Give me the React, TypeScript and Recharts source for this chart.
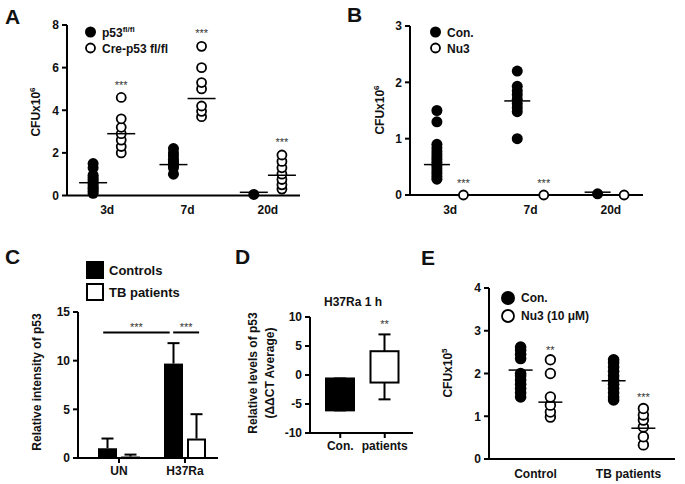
import React from "react";
import { ScatterChart, Scatter, XAxis, YAxis, BarChart, Bar } from "recharts";

const FONT = "'Liberation Sans', Arial, Helvetica, sans-serif";
const INK = "#000";

// ---- A: CFU, p53 fl/fl vs Cre-p53 fl/fl
const daysA = ["3d", "7d", "20d"];
const aFlox = [
  [0.1, 0.2, 0.3, 0.35, 0.45, 0.55, 0.65, 0.75, 0.85, 0.95, 1.3, 1.5],
  [1.0, 1.3, 1.4, 1.5, 1.6, 1.7, 1.85, 2.0, 2.2],
  [0.05],
];
const aCre = [
  [2.0, 2.3, 2.6, 2.9, 3.2, 3.6, 4.6],
  [3.7, 3.95, 4.2, 5.0, 5.3, 6.0, 7.0],
  [0.3, 0.5, 0.75, 1.0, 1.3, 1.6, 1.9],
];
const aFloxMean = [0.6, 1.45, 0.15];
const aCreMean = [2.9, 4.55, 0.95];
const aSig = ["***", "***", "***"];
const aSigY = [5.3, 7.7, 2.6];

// ---- B: CFU, Con. vs Nu3
const daysB = ["3d", "7d", "20d"];
const bCon = [
  [0.28, 0.33, 0.38, 0.43, 0.48, 0.53, 0.58, 0.63, 0.68, 0.73, 0.78, 0.84, 0.9, 1.3, 1.5],
  [1.0, 1.48, 1.55, 1.62, 1.7, 1.78, 1.85, 1.93, 2.2],
  [0.02],
];
const bNu3 = [[0], [0], [0]];
const bConMean = [0.54, 1.67, 0.05];
const bSig = ["***", "***", ""];
const bSigY = [0.25, 0.25, 0];

// ---- C: relative intensity of p53
const cGroups = ["UN", "H37Ra"];
const cControls = [1.0, 9.7];
const cControlsErr = [1.0, 2.1];
const cTB = [0.15, 2.0];
const cTBErr = [0.2, 2.5];
// significance brackets: [from, to] on a 0..2 overlay scale
const cBracketX = [
  [0.36, 1.31],
  [1.36, 1.73],
];
const cBracketY = 12.9;
const cStarY = 13.7;
const cBracketSig = ["***", "***"];

// ---- D: ΔΔCT, H37Ra 1 h
const dCats = ["Con.", "patients"];
const dLow = [-6.1, -1.3];
const dHigh = [-0.6, 4.1];
const dWhiskLow = [-6.1, -4.2];
const dWhiskHigh = [-0.6, 7.0];
const dSig = ["", "**"];
const dSigY = [0, 9.2];

// ---- E: CFU x10^5, Con. vs Nu3 (10 μM)
const groupsE = ["Control", "TB patients"];
const eCon = [
  [1.45, 1.55, 1.65, 1.75, 1.85, 1.95, 2.0, 2.35, 2.45, 2.55, 2.62],
  [1.38, 1.45, 1.55, 1.65, 1.75, 1.85, 1.95, 2.05, 2.15, 2.25, 2.32],
];
const eNu3 = [
  [0.98, 1.1, 1.26, 1.45, 2.0, 2.32],
  [0.33, 0.52, 0.75, 0.91, 1.03, 1.18],
];
const eConMean = [2.08, 1.83];
const eNu3Mean = [1.33, 0.72];
const eSig = ["**", "***"];
const eSigY = [2.6, 1.5];

const axisLine = { stroke: INK, strokeWidth: 2 };
const tickStyle = { fill: "#111", fontSize: 12, fontWeight: 700, fontFamily: FONT };

const pts = (groups: number[][], side: number, off: number) =>
  groups.flatMap((vals, i) => vals.map((v) => ({ x: i + 0.5 + side * off, y: v })));
const marks = (vals: number[], side: number, off: number, labels?: string[]) =>
  vals.map((v, i) => ({ x: i + 0.5 + side * off, y: v, label: labels ? labels[i] : "" }));

const filledDot = (r: number) => (p: any) => <circle cx={p.cx} cy={p.cy} r={r} fill={INK} />;
const openDot = (r: number) => (p: any) => (
  <circle cx={p.cx} cy={p.cy} r={r} fill="#fff" stroke={INK} strokeWidth={1.8} />
);
const meanLine = (w: number) => (p: any) => (
  <line x1={p.cx - w / 2} x2={p.cx + w / 2} y1={p.cy} y2={p.cy} stroke={INK} strokeWidth={1.5} />
);
const starText = (p: any) =>
  p.payload.label ? (
    <text x={p.cx} y={p.cy + 6} textAnchor="middle" fontSize={11} fill="#333" fontFamily={FONT}>
      {p.payload.label}
    </text>
  ) : (
    <g />
  );
const noDot = () => <g />;

type DotPanelProps = {
  width: number;
  height: number;
  margin: { top: number; right: number; bottom: number; left: number };
  yDomain: [number, number];
  yTicks: number[];
  cats: string[];
  xMax: number;
  off: number;
  filled: number[][];
  open: number[][];
  filledMean: number[];
  openMean?: number[];
  sig: string[];
  sigY: number[];
  r: number;
  meanW: number;
  yWidth: number;
  xHeight: number;
};

function DotPanel(p: DotPanelProps) {
  return (
    <ScatterChart width={p.width} height={p.height} margin={p.margin}>
      <XAxis
        type="number"
        dataKey="x"
        domain={[0, p.xMax]}
        ticks={p.cats.map((_, i) => i + 0.5)}
        tickFormatter={(v: number) => p.cats[Math.round(v - 0.5)]}
        tickLine={false}
        tickMargin={4}
        axisLine={axisLine}
        tick={tickStyle}
        height={p.xHeight}
      />
      <YAxis
        type="number"
        dataKey="y"
        domain={p.yDomain}
        ticks={p.yTicks}
        width={p.yWidth}
        tickSize={5}
        tickMargin={3}
        tickLine={axisLine}
        axisLine={axisLine}
        tick={tickStyle}
      />
      <Scatter data={pts(p.filled, -1, p.off)} shape={filledDot(p.r)} isAnimationActive={false} />
      <Scatter data={pts(p.open, 1, p.off)} shape={openDot(p.r - 1)} isAnimationActive={false} />
      <Scatter data={marks(p.filledMean, -1, p.off)} shape={meanLine(p.meanW)} isAnimationActive={false} />
      {p.openMean && (
        <Scatter data={marks(p.openMean, 1, p.off)} shape={meanLine(p.meanW)} isAnimationActive={false} />
      )}
      <Scatter data={marks(p.sigY, 1, p.off, p.sig)} shape={starText} isAnimationActive={false} />
    </ScatterChart>
  );
}

const Letter = ({ x, y, children }: any) => (
  <div
    style={{
      position: "absolute",
      left: x,
      top: y,
      fontSize: 21,
      fontWeight: 700,
      lineHeight: 1,
      fontFamily: FONT,
      color: "#111",
    }}
  >
    {children}
  </div>
);

const VText = ({ x, y, children, lh = 1.15 }: any) => (
  <div
    style={{
      position: "absolute",
      left: x,
      top: y,
      transform: "translate(-50%, -50%) rotate(-90deg)",
      whiteSpace: "nowrap",
      fontSize: 12,
      fontWeight: 700,
      fontFamily: FONT,
      color: "#111",
      lineHeight: lh,
      textAlign: "center",
    }}
  >
    {children}
  </div>
);

const LegendRow = ({ x, y, marker, children, size = 12 }: any) => (
  <div
    style={{
      position: "absolute",
      left: x,
      top: y,
      display: "flex",
      alignItems: "center",
      gap: 5,
      fontSize: size,
      fontWeight: 700,
      fontFamily: FONT,
      color: "#111",
      whiteSpace: "nowrap",
      transform: "translateY(-50%)",
      lineHeight: 1,
    }}
  >
    {marker}
    <span>{children}</span>
  </div>
);

const dotIcon = (r: number, filled: boolean) => (
  <svg width={2 * r + 2} height={2 * r + 2}>
    <circle
      cx={r + 1}
      cy={r + 1}
      r={filled ? r : r - 1}
      fill={filled ? INK : "#fff"}
      stroke={INK}
      strokeWidth={filled ? 0 : 1.8}
    />
  </svg>
);

const squareIcon = (filled: boolean) => (
  <svg width={18} height={18}>
    <rect x={1} y={1} width={16} height={16} fill={filled ? INK : "#fff"} stroke={INK} strokeWidth={2} />
  </svg>
);

// bar + upward-only error bar (GraphPad style)
const barShape = (filled: boolean, valKey: string, errKey: string) => (p: any) => {
  const h = Math.abs(p.height);
  const top = Math.min(p.y, p.y + p.height);
  const ppu = h / p.payload[valKey];
  const errTop = top - p.payload[errKey] * ppu;
  const cx = p.x + p.width / 2;
  return (
    <g>
      {filled ? (
        <rect x={p.x} y={top} width={p.width} height={h} fill={INK} />
      ) : (
        <rect
          x={p.x + 1}
          y={top + 1}
          width={p.width - 2}
          height={Math.max(h - 1, 0.5)}
          fill="#fff"
          stroke={INK}
          strokeWidth={2}
        />
      )}
      <line x1={cx} x2={cx} y1={top} y2={errTop} stroke={INK} strokeWidth={2} />
      <line x1={cx - 6} x2={cx + 6} y1={errTop} y2={errTop} stroke={INK} strokeWidth={2} />
    </g>
  );
};

const BoxShape = (props: any) => {
  const { x, y, width, height, payload, index } = props;
  const [lo, hi] = payload.box;
  const h = Math.abs(height);
  const top = Math.min(y, y + height);
  const ppu = h / (hi - lo);
  const cx = x + width / 2;
  const wTop = top - (payload.wHi - hi) * ppu;
  const wBot = top + h + (lo - payload.wLo) * ppu;
  const filled = index === 0;
  return (
    <g>
      <line x1={cx} x2={cx} y1={wTop} y2={top} stroke={INK} strokeWidth={2} />
      <line x1={cx} x2={cx} y1={top + h} y2={wBot} stroke={INK} strokeWidth={2} />
      <line x1={cx - 6} x2={cx + 6} y1={wTop} y2={wTop} stroke={INK} strokeWidth={2} />
      <line x1={cx - 6} x2={cx + 6} y1={wBot} y2={wBot} stroke={INK} strokeWidth={2} />
      <rect
        x={x + 1}
        y={top}
        width={width - 2}
        height={h}
        fill={filled ? INK : "#fff"}
        stroke={INK}
        strokeWidth={2}
      />
      {payload.sig && (
        <text
          x={cx}
          y={top - (payload.sigY - hi) * ppu + 6}
          textAnchor="middle"
          fontSize={11}
          fill="#333"
          fontFamily={FONT}
        >
          {payload.sig}
        </text>
      )}
    </g>
  );
};

export default function App() {
  const cData = cGroups.map((g, i) => ({
    g,
    ctrl: cControls[i],
    ctrlErr: cControlsErr[i],
    tb: cTB[i],
    tbErr: cTBErr[i],
  }));
  const cStars = cBracketX.map(([a, b], i) => ({ x: (a + b) / 2, y: cStarY, label: cBracketSig[i] }));
  const dData = dCats.map((c, i) => ({
    c,
    box: [dLow[i], dHigh[i]],
    wLo: dWhiskLow[i],
    wHi: dWhiskHigh[i],
    sig: dSig[i],
    sigY: dSigY[i],
  }));

  return (
    <div
      style={{
        position: "absolute",
        left: 0,
        top: 0,
        width: 685,
        height: 484,
        background: "#fff",
        overflow: "hidden",
        fontFamily: FONT,
      }}
    >
      {/* A */}
      <div style={{ position: "absolute", left: 0, top: 0 }}>
        <DotPanel
          width={320}
          height={240}
          margin={{ top: 25, right: 20, bottom: 14.5, left: 27 }}
          yDomain={[0, 8]}
          yTicks={[0, 2, 4, 6, 8]}
          cats={daysA}
          xMax={2.9}
          off={0.175}
          filled={aFlox}
          open={aCre}
          filledMean={aFloxMean}
          openMean={aCreMean}
          sig={aSig}
          sigY={aSigY}
          r={5.5}
          meanW={28}
          yWidth={40}
          xHeight={30}
        />
      </div>
      <Letter x={5} y={6}>A</Letter>
      <VText x={36} y={112}>
        CFUx10<sup style={{ fontSize: 8 }}>6</sup>
      </VText>
      <LegendRow x={84} y={32} marker={dotIcon(5.5, true)}>
        p53<sup style={{ fontSize: 8 }}>fl/fl</sup>
      </LegendRow>
      <LegendRow x={84} y={48} marker={dotIcon(5.5, false)}>
        Cre-p53 fl/fl
      </LegendRow>

      {/* B */}
      <div style={{ position: "absolute", left: 340, top: 0 }}>
        <DotPanel
          width={320}
          height={240}
          margin={{ top: 26, right: 17, bottom: 15, left: 30 }}
          yDomain={[0, 3]}
          yTicks={[0, 1, 2, 3]}
          cats={daysB}
          xMax={2.9}
          off={0.165}
          filled={bCon}
          open={bNu3}
          filledMean={bConMean}
          sig={bSig}
          sigY={bSigY}
          r={5.5}
          meanW={26}
          yWidth={40}
          xHeight={30}
        />
      </div>
      <Letter x={347} y={4}>B</Letter>
      <VText x={380} y={110}>
        CFUx10<sup style={{ fontSize: 8 }}>6</sup>
      </VText>
      <LegendRow x={429} y={32} marker={dotIcon(5.5, true)}>
        Con.
      </LegendRow>
      <LegendRow x={429} y={48} marker={dotIcon(5.5, false)}>
        Nu3
      </LegendRow>

      {/* C */}
      <div style={{ position: "absolute", left: 0, top: 240 }}>
        <BarChart
          width={240}
          height={244}
          data={cData}
          margin={{ top: 72, right: 22, bottom: 0, left: 38 }}
          barSize={19}
          barGap={4}
        >
          <XAxis
            dataKey="g"
            height={26}
            padding={{ left: 8, right: 0 }}
            tickSize={5}
            tickMargin={3}
            tickLine={axisLine}
            axisLine={axisLine}
            tick={tickStyle}
          />
          <YAxis
            domain={[0, 15]}
            ticks={[0, 5, 10, 15]}
            width={40}
            tickSize={5}
            tickMargin={3}
            tickLine={axisLine}
            axisLine={axisLine}
            tick={tickStyle}
          />
          <Bar dataKey="ctrl" shape={barShape(true, "ctrl", "ctrlErr")} isAnimationActive={false} />
          <Bar dataKey="tb" shape={barShape(false, "tb", "tbErr")} isAnimationActive={false} />
        </BarChart>
      </div>
      {/* C significance brackets, drawn on an overlay with the same plot area */}
      <div style={{ position: "absolute", left: 0, top: 240 }}>
        <ScatterChart width={240} height={244} margin={{ top: 72, right: 22, bottom: 26, left: 78 }}>
          <XAxis type="number" dataKey="x" domain={[0, 2]} hide />
          <YAxis type="number" dataKey="y" domain={[0, 15]} hide />
          {cBracketX.map(([a, b], i) => (
            <Scatter
              key={i}
              data={[
                { x: a, y: cBracketY },
                { x: b, y: cBracketY },
              ]}
              line={{ stroke: INK, strokeWidth: 2 }}
              shape={noDot}
              isAnimationActive={false}
            />
          ))}
          <Scatter data={cStars} shape={starText} isAnimationActive={false} />
        </ScatterChart>
      </div>
      <Letter x={5} y={246}>C</Letter>
      <VText x={38} y={382}>Relative intensity of p53</VText>
      <LegendRow x={86} y={270} marker={squareIcon(true)} size={13}>
        Controls
      </LegendRow>
      <LegendRow x={86} y={292} marker={squareIcon(false)} size={13}>
        TB patients
      </LegendRow>

      {/* D */}
      <div style={{ position: "absolute", left: 240, top: 240 }}>
        <BarChart
          width={180}
          height={244}
          data={dData}
          margin={{ top: 77, right: 7, bottom: 21, left: 34 }}
          barSize={30}
        >
          <XAxis
            dataKey="c"
            height={30}
            padding={{ left: 8, right: 6 }}
            tickSize={5}
            tickMargin={3}
            tickLine={axisLine}
            axisLine={axisLine}
            tick={tickStyle}
          />
          <YAxis
            domain={[-10, 10]}
            ticks={[-10, -5, 0, 5, 10]}
            width={36}
            tickSize={5}
            tickMargin={3}
            tickLine={axisLine}
            axisLine={axisLine}
            tick={tickStyle}
          />
          <Bar dataKey="box" shape={BoxShape} isAnimationActive={false} />
        </BarChart>
      </div>
      <Letter x={235} y={246}>D</Letter>
      <div
        style={{
          position: "absolute",
          left: 353,
          top: 302,
          transform: "translate(-50%, -50%)",
          fontSize: 12,
          fontWeight: 700,
          color: "#111",
          whiteSpace: "nowrap",
        }}
      >
        H37Ra 1 h
      </div>
      <VText x={262} y={373} lh={1.4}>
        Relative levels of p53
        <br />
        (ΔΔCT Average)
      </VText>

      {/* E */}
      <div style={{ position: "absolute", left: 430, top: 240 }}>
        <DotPanel
          width={255}
          height={244}
          margin={{ top: 48, right: 10, bottom: 0, left: 24 }}
          yDomain={[0, 4]}
          yTicks={[0, 1, 2, 3, 4]}
          cats={groupsE}
          xMax={2}
          off={0.16}
          filled={eCon}
          open={eNu3}
          filledMean={eConMean}
          openMean={eNu3Mean}
          sig={eSig}
          sigY={eSigY}
          r={5.8}
          meanW={24}
          yWidth={35}
          xHeight={25}
        />
      </div>
      <Letter x={421} y={247}>E</Letter>
      <VText x={448} y={373}>
        CFUx10<sup style={{ fontSize: 8 }}>5</sup>
      </VText>
      <LegendRow x={500} y={298} marker={dotIcon(7, true)}>
        Con.
      </LegendRow>
      <LegendRow x={500} y={316} marker={dotIcon(7, false)}>
        Nu3 (10 μM)
      </LegendRow>
    </div>
  );
}
